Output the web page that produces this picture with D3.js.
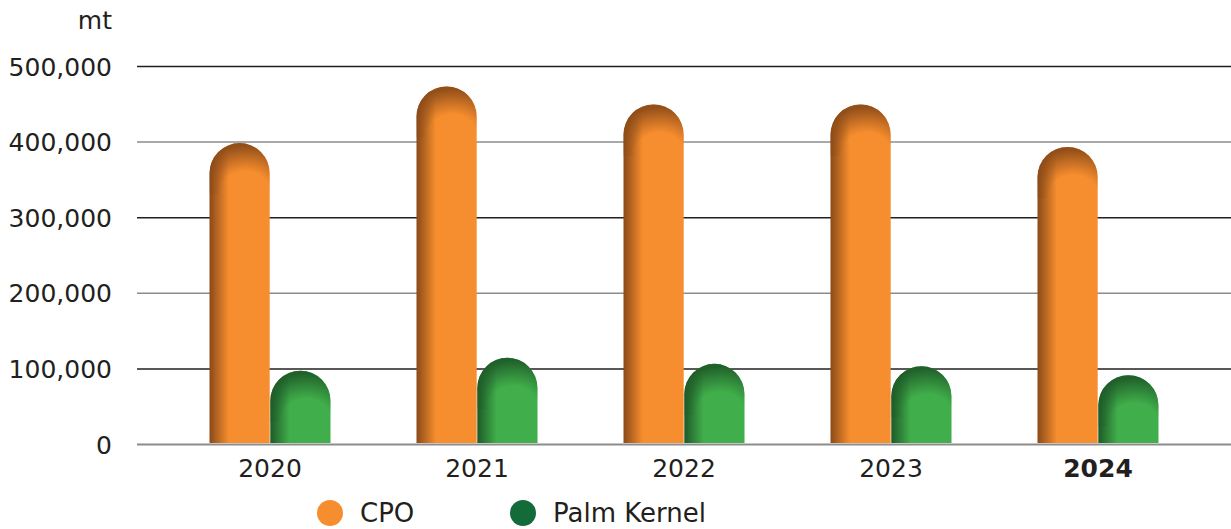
<!DOCTYPE html>
<html>
<head>
<meta charset="utf-8">
<script src="https://cdn.jsdelivr.net/npm/d3@7"></script>
<style>
  html, body { margin: 0; padding: 0; background: #fff; }
  svg { display: block; }
  svg text { font-family: "DejaVu Sans", sans-serif; }
</style>
</head>
<body>
<svg id="chart" width="1231" height="529"></svg>
<script>
// values (mt)
const years = ['2020', '2021', '2022', '2023', '2024'];
const cpo = [398000, 473000, 449000, 449000, 393000];
const palmKernel = [97000, 114000, 106000, 103000, 91000];
const yTicks = [0, 100000, 200000, 300000, 400000, 500000];
const seriesNames = ['CPO', 'Palm Kernel'];

const width = 1231, height = 529;
const svg = d3.select('#chart');
const defs = svg.append('defs');

const x = d3.scaleBand().domain(years).range([166.5, 1201.5]).padding(0);
const xSub = d3.scaleBand().domain(['cpo', 'pk']).range([-60.5, 60.5]).paddingInner(0.01);
const y = d3.scaleLinear().domain([0, 500000]).range([444, 66]);

const palette = {
  cpo: { main: '#f68d2e', dark: '#8a4a18', legend: '#f68d2e' },
  pk: { main: '#40ae4a', dark: '#1e5a28', legend: '#136b3a' }
};

// body gradient (dark at left edge) and cap shading
Object.entries(palette).forEach(([k, c]) => {
  const lg = defs.append('linearGradient').attr('id', 'body-' + k)
    .attr('x1', 0).attr('x2', 1).attr('y1', 0).attr('y2', 0);
  lg.append('stop').attr('offset', '0%').attr('stop-color', c.dark);
  lg.append('stop').attr('offset', '32%').attr('stop-color', c.main);
  lg.append('stop').attr('offset', '100%').attr('stop-color', c.main);

  const rg = defs.append('radialGradient').attr('id', 'cap-' + k)
    .attr('cx', 0.6).attr('cy', 0.95).attr('r', 0.9);
  rg.append('stop').attr('offset', '0%').attr('stop-color', c.dark).attr('stop-opacity', 0);
  rg.append('stop').attr('offset', '45%').attr('stop-color', c.dark).attr('stop-opacity', 0);
  rg.append('stop').attr('offset', '100%').attr('stop-color', c.dark).attr('stop-opacity', 0.92);
});

// grid + y labels
const yAxis = svg.append('g')
  .attr('transform', 'translate(137,0)')
  .call(d3.axisLeft(y).tickValues(yTicks).tickSize(-(width - 137)).tickPadding(25)
    .tickFormat(d3.format(',')))
  .attr('font-family', null);
yAxis.select('.domain').remove();
yAxis.selectAll('.tick line')
  .attr('stroke', d => (d / 100000) % 2 === 1 ? '#231f20' : '#8c8c8c')
  .attr('stroke-width', d => d === 0 ? 2 : 1.5);
yAxis.selectAll('.tick text')
  .attr('fill', '#231f20').style('font-size', '25px')
  .attr('dy', '0.36em');

svg.append('text')
  .attr('x', 112).attr('y', 29)
  .attr('text-anchor', 'end')
  .attr('fill', '#231f20').style('font-size', '25px')
  .text('mt');

// bars
function barPath(x0, w, top, bottom) {
  const r = w / 2;
  return `M${x0},${bottom}L${x0},${top + r}A${r},${r} 0 0 1 ${x0 + w},${top + r}L${x0 + w},${bottom}Z`;
}
function capPath(x0, w, top) {
  const r = w / 2, ext = w * 0.35;
  return `M${x0},${top + r + ext}L${x0},${top + r}A${r},${r} 0 0 1 ${x0 + w},${top + r}L${x0 + w},${top + r + ext}Z`;
}

const rows = years.map((yr, i) => ({ year: yr, cpo: cpo[i], pk: palmKernel[i] }));
const groups = svg.append('g').selectAll('g')
  .data(rows).join('g')
  .attr('transform', d => `translate(${x(d.year) + x.bandwidth() / 2},0)`);

['cpo', 'pk'].forEach(k => {
  const w = xSub.bandwidth();
  groups.append('path')
    .attr('d', d => barPath(xSub(k), w, y(d[k]), y(0) - 1))
    .attr('fill', `url(#body-${k})`);
  groups.append('path')
    .attr('d', d => capPath(xSub(k), w, y(d[k])))
    .attr('fill', `url(#cap-${k})`);
});

// x axis labels
const xAxis = svg.append('g')
  .attr('transform', `translate(0,${y(0)})`)
  .call(d3.axisBottom(x).tickSize(0).tickPadding(15))
  .attr('font-family', null);
xAxis.select('.domain').remove();
xAxis.selectAll('.tick text')
  .attr('fill', '#231f20').style('font-size', '25px')
  .style('font-weight', d => d === '2024' ? 'bold' : 'normal');

// legend
const legendX = [330, 523];
const legend = svg.append('g').selectAll('g')
  .data(seriesNames).join('g')
  .attr('transform', (d, i) => `translate(${legendX[i]},513)`);
legend.append('circle').attr('r', 13)
  .attr('fill', (d, i) => i === 0 ? palette.cpo.legend : palette.pk.legend);
legend.append('text')
  .attr('x', 30).attr('y', 9)
  .attr('fill', '#231f20').style('font-size', '26px')
  .text(d => d);
</script>
</body>
</html>
